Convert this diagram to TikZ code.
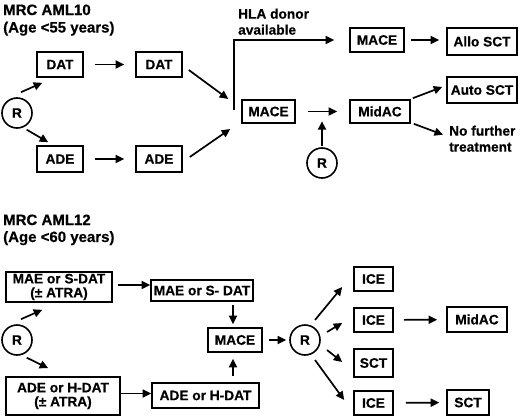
\documentclass[tikz,border=0pt]{standalone}
\usepackage{fontspec}
\setmainfont[BoldFeatures={FakeBold=0.5}]{Liberation Sans}
\usetikzlibrary{arrows.meta,calc}
\begin{document}
\begin{tikzpicture}[x=1pt,y=-1pt,
  box/.style={draw,line width=1.6pt,inner sep=0pt,align=center,font=\fontsize{13.7}{14}\selectfont\bfseries},
  circ/.style={draw,circle,line width=1.6pt,minimum size=30pt,inner sep=0pt,font=\fontsize{13.7}{14}\selectfont\bfseries},
  arr/.style={line width=1.7pt,-{Triangle[length=8.5pt,width=8pt]}},
  ttl/.style={anchor=base west,inner sep=0pt,font=\fontsize{15}{17}\selectfont\bfseries},
  lbl/.style={anchor=north west,inner sep=0pt,align=left,font=\fontsize{13.7}{16}\selectfont\bfseries}]
\useasboundingbox[fill=white] (0,0) rectangle (520,418);

% ---------- AML10 ----------
\node[ttl] (t1a) at (3,15) {MRC AML10};
\node[ttl] (t1b) at (3,32.5) {(Age <55 years)};

\node[circ] (r1) at (17,113) {R};
\node[box,minimum width=46,minimum height=25] (dat1) at (60,64.5) {DAT};
\node[box,minimum width=46,minimum height=25] (dat2) at (159,64.5) {DAT};
\node[box,minimum width=46,minimum height=26] (ade1) at (60,159) {ADE};
\node[box,minimum width=46,minimum height=26] (ade2) at (159,159) {ADE};
\node[box,minimum width=53,minimum height=23] (mace1) at (268.5,111.5) {MACE};
\node[box,minimum width=54,minimum height=24] (mace2) at (377,40) {MACE};
\node[box,minimum width=70,minimum height=27] (allo) at (482,41.5) {Allo SCT};
\node[box,minimum width=60,minimum height=23] (midac1) at (380,111.5) {MidAC};
\node[box,minimum width=70,minimum height=26] (auto) at (482,90) {Auto SCT};
\node[circ] (r2) at (322,163) {R};
\node[lbl] (hla) at (238,8.5) {HLA donor\\available};
\node[lbl] (nf) at (449,125.5) {No further\\treatment};

\draw[arr] ([shift={(4,-5)}]r1.north) -- ([shift={(6,5)}]dat1.south west);
\draw[arr] ([shift={(-1.5,5.5)}]r1.south east) -- ([shift={(12,-3)}]ade1.north west);
\draw[arr,shorten <=11pt,shorten >=11pt] (dat1) -- (dat2);
\draw[arr,shorten <=11pt,shorten >=11pt] (ade1) -- (ade2);
\draw[arr] ([shift={(6,5.5)}]dat2.east) -- ([shift={(-13,-12.5)}]mace1.west);
\draw[arr] ([shift={(7,-2)}]ade2.east) -- ([shift={(-11,17.5)}]mace1.west);
\draw[arr] ([shift={(-7,-1.5)}]mace1.west) |- ([shift={(-15,0)}]mace2.west);
\draw[arr,shorten <=6pt,shorten >=7pt] (mace2.east) -- (mace2.east -| allo.west);
\draw[arr,shorten <=12pt,shorten >=12pt] (mace1) -- (midac1);
\draw[arr] ([shift={(0,-1)}]r2.north) -- ([shift={(0,-26)}]r2.north);
\draw[arr] ([shift={(2,-1)}]midac1.north east) -- ([shift={(-4,-3)}]auto.west);
\draw[arr] ([shift={(3,0)}]midac1.south east) -- ([shift={(-6,-4)}]nf.west);

% ---------- AML12 ----------
\node[ttl] (t2a) at (3,225) {MRC AML12};
\node[ttl] (t2b) at (3,242) {(Age <60 years)};

\node[circ] (r3) at (17,340) {R};
\node[box,minimum width=106,minimum height=30] (mae1) at (59,287) {MAE or S-DAT\\(± ATRA)};
\node[box,minimum width=102,minimum height=21] (mae2) at (202,290.5) {MAE or S- DAT};
\node[box,minimum width=114,minimum height=38] (ade3) at (63,396) {ADE or H-DAT\\(± ATRA)};
\node[box,minimum width=107,minimum height=25] (ade4) at (205.5,395.5) {ADE or H-DAT};
\node[box,minimum width=54,minimum height=24] (maceb) at (235,340) {MACE};
\node[circ] (r4) at (305,340) {R};
\node[box,minimum width=39,minimum height=24] (ice1) at (373.5,279) {ICE};
\node[box,minimum width=39,minimum height=24] (ice2) at (373.5,320) {ICE};
\node[box,minimum width=39,minimum height=28] (sct1) at (373.5,363) {SCT};
\node[box,minimum width=39,minimum height=24] (ice3) at (373.5,403) {ICE};
\node[box,minimum width=60,minimum height=25] (midac2) at (477,319.5) {MidAC};
\node[box,minimum width=42,minimum height=25] (sct2) at (468,402.5) {SCT};

\draw[arr] ([shift={(4,-5)}]r3.north) -- ([shift={(37,7)}]mae1.south west);
\draw[arr] ([shift={(-1.5,6.5)}]r3.south east) -- ([shift={(43,-8)}]ade3.north west);
\draw[arr] ([shift={(5,-2)}]mae1.east) -- ([shift={(0,-2)}]mae1.east -| mae2.west);
\draw[arr] ([shift={(0,-2.5)}]ade3.east) -- ([shift={(0,-2.5)}]ade3.east -| ade4.west);
\draw[arr] ([shift={(-2,3)}]maceb.north |- mae2.south) -- ([shift={(-2,-3)}]maceb.north);
\draw[arr] ([shift={(-2,-6)}]maceb.south |- ade4.north) -- ([shift={(-2,6)}]maceb.south);
\draw[arr,shorten <=6pt,shorten >=3pt] (maceb) -- (r4);
\draw[arr] ([shift={(10,-20)}]r4.center) -- ([shift={(-11,8)}]ice1.west);
\draw[arr] ([shift={(22,-8)}]r4.center) -- ([shift={(-11,3)}]ice2.west);
\draw[arr] ([shift={(22,10)}]r4.center) -- ([shift={(-11,-1)}]sct1.west);
\draw[arr] ([shift={(10,20)}]r4.center) -- ([shift={(-9,-3)}]ice3.west);
\draw[arr,shorten <=10pt,shorten >=9pt] (ice2) -- (midac2);
\draw[arr,shorten <=12pt,shorten >=7pt] (ice3) -- (sct2);
\end{tikzpicture}
\end{document}
